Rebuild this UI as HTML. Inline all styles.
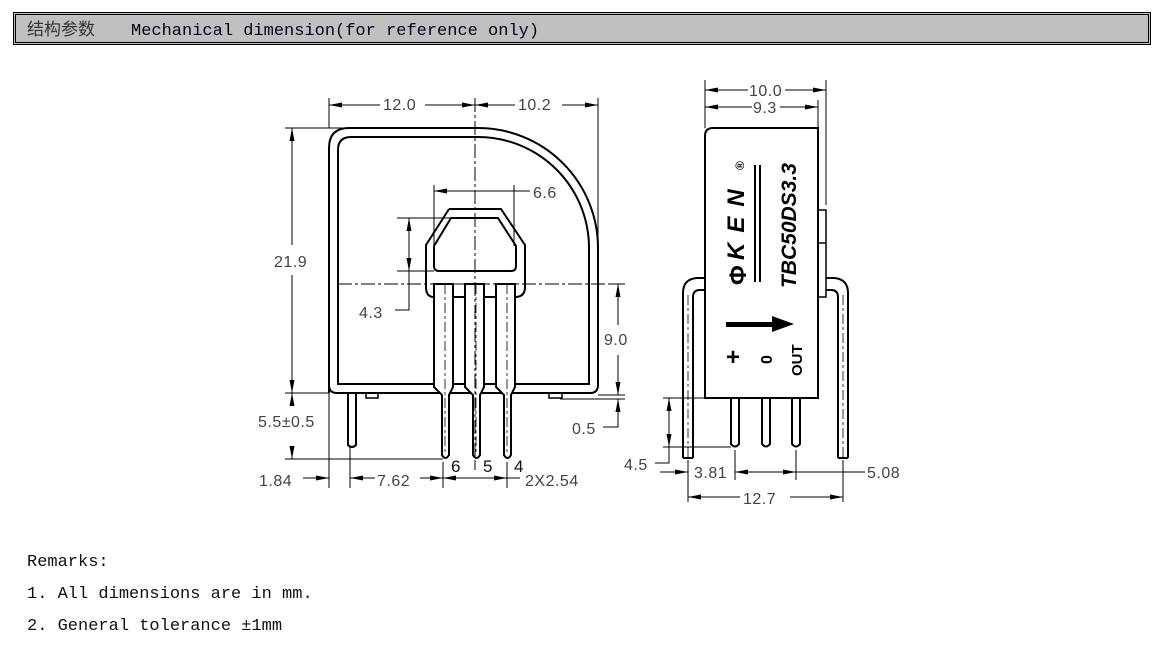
<!DOCTYPE html>
<html><head><meta charset="utf-8"><style>
html,body{margin:0;padding:0;background:#fff;width:1161px;height:649px;overflow:hidden}
svg{display:block}
.m{font-family:"Liberation Mono","Noto Sans CJK SC",monospace;font-size:17px}
.d{font-family:"Liberation Sans",sans-serif;font-size:16px;fill:#444;letter-spacing:0.5px}
</style></head><body>
<svg width="1161" height="649" viewBox="0 0 1161 649" xmlns="http://www.w3.org/2000/svg">
<defs>
<marker id="a" markerWidth="14" markerHeight="8" refX="13" refY="4" orient="auto-start-reverse" markerUnits="userSpaceOnUse"><path d="M0,1.5 L13,4 L0,6.5 Z" fill="#000"/></marker>
</defs>
<!-- header -->
<rect x="13.5" y="12.5" width="1137" height="32" fill="#c0c0c0" stroke="#000"/>
<rect x="15.5" y="14.5" width="1133" height="28" fill="none" stroke="#000"/>
<text x="27" y="35" class="m" fill="#333">结构参数</text>
<text x="131" y="35" class="m" fill="#001">Mechanical dimension(for reference only)</text>

<g fill="none" stroke="#000" stroke-width="1">
<!-- LEFT DRAWING body -->
<path d="M329,393 L329,148 Q329,128 349,128 L478,128 A120,120 0 0 1 598,248 L598,385 Q598,393 590,393 L337,393 Q329,393 329,385" stroke-width="2"/>
<path d="M338,384 L338,150 Q338,137 351,137 L478,137 A111,111 0 0 1 589,248 L589,384 Z" stroke-width="2"/>
<!-- hole shapes -->
<path d="M449,209 L501,209 L525,245 L525,287 Q525,297 515,297 L515,297 M434,297 Q426,297 426,287 L426,245 L449,209" stroke-width="2"/>
<path d="M451,218 L498,218 L516,246 L516,266 Q516,271 511,271 L439,271 Q434,271 434,266 L434,246 Z" stroke-width="2"/>
<!-- pins -->
<path d="M434,284 L453,284 L453,387 L449,395 L449,455 Q445.5,461 442,455 L442,395 L434,387 Z" stroke-width="2" fill="#fff"/>
<path d="M465,284 L484,284 L484,387 L480,395 L480,455 Q476.5,461 473,455 L473,395 L465,387 Z" stroke-width="2" fill="#fff"/>
<path d="M496,284 L515,284 L515,387 L511,395 L511,455 Q507.5,461 504,455 L504,395 L496,387 Z" stroke-width="2" fill="#fff"/>
<path d="M453,297 L465,297 M484,297 L496,297" stroke-width="2"/>
<path d="M348,393 L348,445 Q352,449 356,445 L356,393" stroke-width="2"/>
<path d="M366,394 L366,398 L378,398 L378,394 M549,394 L549,398 L562,398 L562,394" stroke-width="1.5"/>
<!-- centerlines -->
<path d="M475,98 L475,470" stroke-dasharray="14,3,3,3"/>
<path d="M338,284 L610,284" stroke-dasharray="14,3,3,3"/>
<path d="M445,284 L445,455 M476,284 L476,455 M507,284 L507,455" stroke-dasharray="10,3,3,3" stroke-width="0.8"/>
<!-- top dims -->
<path d="M329,98 L329,128 M598,98 L598,245"/>
<path d="M380,105 L329,105" marker-end="url(#a)"/><path d="M425,105 L475,105" marker-end="url(#a)"/>
<path d="M515,105 L475,105" marker-end="url(#a)"/><path d="M562,105 L598,105" marker-end="url(#a)"/>
<!-- 21.9 -->
<path d="M285,128 L478,128 M285,393 L329,393 M285,459 L443,459"/>
<path d="M292,245 L292,128" marker-end="url(#a)"/><path d="M292,275 L292,393" marker-end="url(#a)"/>
<path d="M292,405 L292,393" marker-end="url(#a)"/><path d="M292,447 L292,459" marker-end="url(#a)"/>
<!-- 6.6 -->
<path d="M434,185 L434,246 M514,185 L514,246"/>
<path d="M475,191 L434,191" marker-end="url(#a)"/><path d="M475,191 L514,191 L530,191"/>
<!-- 4.3 -->
<path d="M397,218 L451,218 M397,271 L434,271"/>
<path d="M409,245 L409,218" marker-end="url(#a)"/><path d="M409,245 L409,271" marker-end="url(#a)"/>
<path d="M409,271 L409,310 L395,310"/>
<!-- 9.0 / 0.5 -->
<path d="M610,284 L625,284 M598,395 L625,395 M560,399 L625,399"/>
<path d="M618,325 L618,284" marker-end="url(#a)"/><path d="M618,355 L618,395" marker-end="url(#a)"/>
<path d="M618,411 L618,399" marker-end="url(#a)"/><path d="M618,411 L618,427 L603,427"/>
<!-- bottom dims left -->
<path d="M329,393 L329,488 M350,447 L350,488 M443,462 L443,488 M475,462 L475,470 M507,462 L507,488"/>
<path d="M303,478 L329,478" marker-end="url(#a)"/>
<path d="M375,478 L350,478" marker-end="url(#a)"/><path d="M420,478 L443,478" marker-end="url(#a)"/>
<path d="M475,478 L443,478" marker-end="url(#a)"/><path d="M475,478 L507,478" marker-end="url(#a)"/>
<path d="M507,478 L520,478"/>

<!-- RIGHT DRAWING -->
<path d="M705,398 L705,136 Q705,128 713,128 L818,128 L818,398 Z" stroke-width="2" fill="#fff"/>
<path d="M818,210 L826,210 L826,297 L818,297 M818,243 L826,243" stroke-width="1.5"/>
<path d="M683,458 L683,293 Q683,279 697,278 L705,278 M693,458 L693,297 Q693,290 700,290 L705,290 M683,458 L693,458" stroke-width="2"/>
<path d="M848,458 L848,293 Q848,279 834,278 L826,278 M838,458 L838,297 Q838,290 831,290 L826,290 M838,458 L848,458" stroke-width="2"/>
<path d="M688,295 L688,470 M843,295 L843,470" stroke-dasharray="10,3,3,3" stroke-width="0.8"/>
<path d="M731,398 L731,444 Q735,449 739,444 L739,398 M762,398 L762,444 Q766,449 770,444 L770,398 M792,398 L792,444 Q796,449 800,444 L800,398" stroke-width="2"/>
<!-- top dims right -->
<path d="M705,80 L705,128 M826,80 L826,205 M818,100 L818,128"/>
<path d="M748,90 L705,90" marker-end="url(#a)"/><path d="M785,90 L826,90" marker-end="url(#a)"/>
<path d="M752,107 L705,107" marker-end="url(#a)"/><path d="M780,107 L818,107" marker-end="url(#a)"/>
<!-- 4.5 -->
<path d="M663,398 L705,398 M663,447 L731,447"/>
<path d="M669,420 L669,398" marker-end="url(#a)"/><path d="M669,420 L669,447" marker-end="url(#a)"/>
<path d="M669,447 L669,463 L655,463"/>
<!-- bottom right dims -->
<path d="M688,460 L688,502 M735,450 L735,480 M796,450 L796,480 M843,460 L843,502"/>
<path d="M660,472 L688,472" marker-end="url(#a)"/>
<path d="M765,472 L735,472" marker-end="url(#a)"/><path d="M765,472 L796,472" marker-end="url(#a)"/>
<path d="M796,472 L865,472"/>
<path d="M740,497 L688,497" marker-end="url(#a)"/><path d="M790,497 L843,497" marker-end="url(#a)"/>
<path d="M755,165 L755,282 M760,165 L760,282" stroke-width="2"/>
</g>
<!-- arrow on label -->
<path d="M726,322 L772,322 L772,316 L794,324 L772,332 L772,327 L726,327 Z" fill="#000"/>

<!-- dimension text -->
<g class="d">
<rect x="380" y="96" width="44" height="16" fill="#fff"/><text x="383" y="110">12.0</text>
<rect x="516" y="96" width="44" height="16" fill="#fff"/><text x="518" y="110">10.2</text>
<rect x="272" y="250" width="40" height="20" fill="#fff"/><text x="274" y="267">21.9</text>
<text x="533" y="198">6.6</text>
<text x="359" y="318">4.3</text>
<rect x="602" y="328" width="32" height="20" fill="#fff"/><text x="604" y="345">9.0</text>
<rect x="256" y="410" width="72" height="20" fill="#fff"/><text x="258" y="427">5.5±0.5</text>
<text x="572" y="434">0.5</text>
<text x="259" y="486">1.84</text>
<text x="377" y="486">7.62</text>
<text x="525" y="486">2X2.54</text>
<text x="749" y="96">10.0</text>
<text x="753" y="113">9.3</text>
<text x="624" y="470">4.5</text>
<text x="694" y="478">3.81</text>
<text x="867" y="478">5.08</text>
<text x="743" y="504">12.7</text>
</g>
<g font-family="Liberation Sans,sans-serif" font-size="17" fill="#111">
<text x="451" y="472">6</text><text x="483" y="472">5</text><text x="514" y="472">4</text>
</g>
<!-- rotated label texts -->
<g font-family="Liberation Sans,sans-serif" font-weight="bold" fill="#000">
<text transform="translate(744,260) rotate(-90)" font-size="24" font-style="italic" letter-spacing="10">KEN</text>
<text transform="translate(744,170) rotate(-90)" font-size="12">®</text>
<text transform="translate(746,285) rotate(-90)" font-size="24">Φ</text>
<text transform="translate(796,288) rotate(-90)" font-size="21" font-style="italic">TBC50DS3.3</text>
<text x="726" y="365" font-size="24">+</text>
<text transform="translate(772,364) rotate(-90)" font-size="16">0</text>
<text transform="translate(802,376) rotate(-90)" font-size="15">OUT</text>
</g>

<!-- remarks -->
<g class="m" fill="#111">
<text x="27" y="566">Remarks:</text>
<text x="27" y="598">1. All dimensions are in mm.</text>
<text x="27" y="630">2. General tolerance ±1mm</text>
</g>
</svg>
</body></html>
